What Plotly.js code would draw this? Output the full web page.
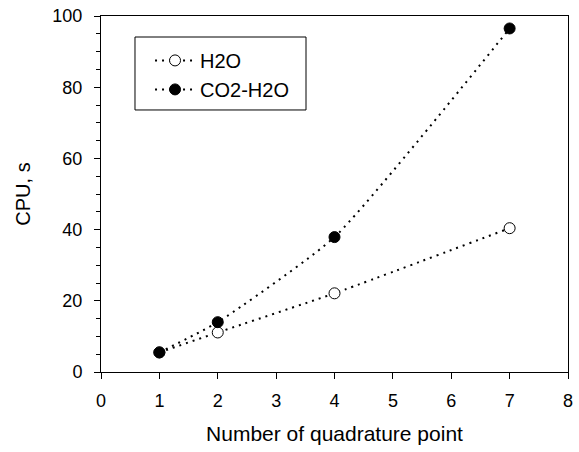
<!DOCTYPE html>
<html><head><meta charset="utf-8">
<script src="https://cdn.plot.ly/plotly-3.0.1.min.js"></script>
<style>body{margin:0;background:#fff}#c{width:579px;height:452px}</style>
</head><body><div id="c"></div>
<script>
const xPoints = [1, 2, 4, 7];
const h2o = [5.5, 11.1, 22.1, 40.4];
const co2h2o = [5.5, 14.0, 37.9, 96.5];
const seriesNames = ["H2O", "CO2-H2O"];

const lineStyle = {color: '#000', width: 2, dash: '2px,5px', shape: 'spline', smoothing: 0.5};
const traces = [
  {x: xPoints, y: h2o, name: seriesNames[0], mode: 'lines+markers', line: lineStyle,
   marker: {symbol: 'circle', size: 11, color: '#fff', line: {color: '#000', width: 1}}},
  {x: xPoints, y: co2h2o, name: seriesNames[1], mode: 'lines+markers', line: lineStyle,
   marker: {symbol: 'circle', size: 11, color: '#000', line: {color: '#000', width: 1}}}
];

const layout = {
  width: 579, height: 452,
  margin: {l: 101, r: 11, t: 16, b: 80},
  paper_bgcolor: '#fff', plot_bgcolor: '#fff',
  font: {family: 'Liberation Sans, Arial, sans-serif', color: '#000', size: 18},
  showlegend: true,
  legend: {x: 0.105, y: 0.93, xanchor: 'left', yanchor: 'top',
           borderwidth: 0, bgcolor: 'rgba(0,0,0,0)',
           font: {size: 20}, tracegroupgap: 0, itemwidth: 40},
  shapes: [{type: 'rect', xref: 'paper', yref: 'paper',
            x0: 0.0728, x1: 0.439, y0: 0.736, y1: 0.941,
            line: {color: '#000', width: 1}, fillcolor: 'rgba(0,0,0,0)', layer: 'above'}],
  xaxis: {range: [0, 8], dtick: 1, tick0: 0, showgrid: false, zeroline: false,
          showline: true, linecolor: '#000', linewidth: 1, mirror: true,
          ticks: 'outside', ticklen: 6, tickcolor: '#000', ticklabelstandoff: 6,
          title: {text: 'Number of quadrature point', font: {size: 21}, standoff: 16}},
  yaxis: {range: [0, 100], dtick: 20, tick0: 0, showgrid: false, zeroline: false,
          showline: true, linecolor: '#000', linewidth: 1, mirror: true,
          ticks: 'outside', ticklen: 6, tickcolor: '#000', ticklabelstandoff: 8,
          minor: {dtick: 5, ticks: 'outside', ticklen: 4, tickcolor: '#000', showgrid: false},
          title: {text: 'CPU, s', font: {size: 20}, standoff: 16}}
};
Plotly.newPlot('c', traces, layout, {displayModeBar: false, staticPlot: true});
</script></body></html>
